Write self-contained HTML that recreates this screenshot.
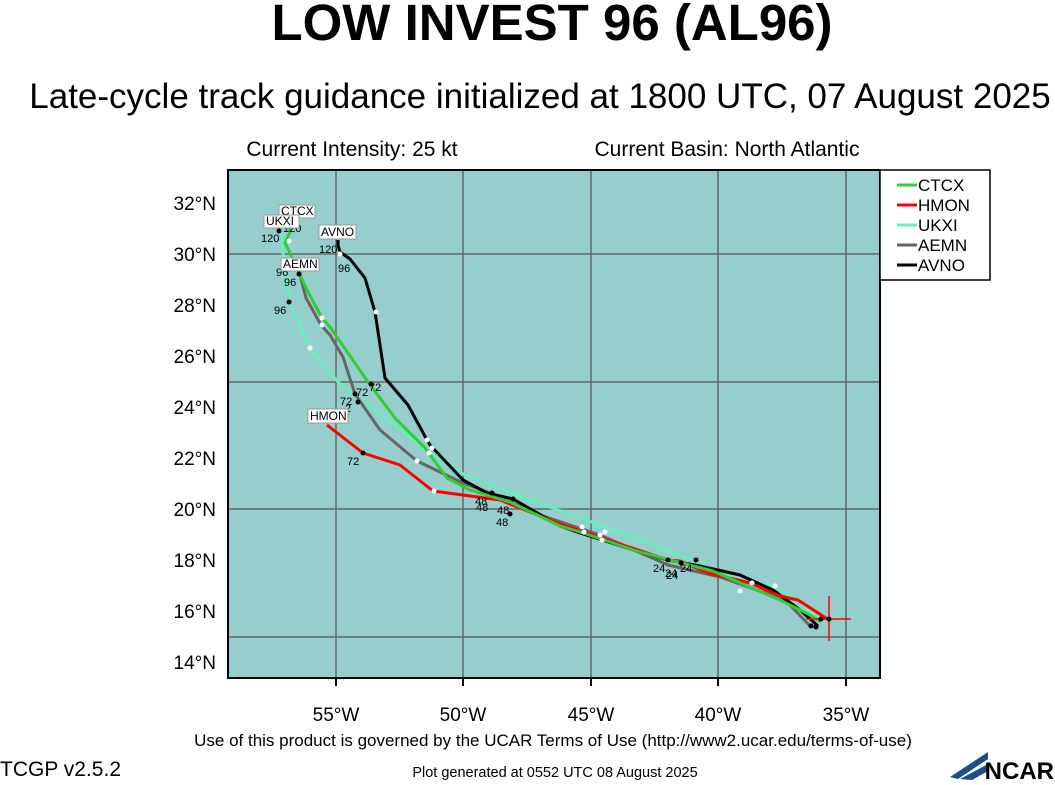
<!DOCTYPE html>
<html><head><style>
body{margin:0;background:#fff;width:1055px;height:780px;overflow:hidden;font-family:"Liberation Sans",sans-serif}
</style></head><body>
<svg width="1055" height="780" xmlns="http://www.w3.org/2000/svg" font-family="Liberation Sans, sans-serif">
<text x="552" y="40" font-size="51" font-weight="bold" text-anchor="middle">LOW INVEST 96 (AL96)</text>
<text x="540" y="108" font-size="35" text-anchor="middle">Late-cycle track guidance initialized at 1800 UTC, 07 August 2025</text>
<text x="352" y="156" font-size="21" text-anchor="middle">Current Intensity: 25 kt</text>
<text x="727" y="156" font-size="21" text-anchor="middle">Current Basin: North Atlantic</text>
<rect x="228" y="170" width="652" height="508" fill="#96cdcd"/>
<g stroke="#666" stroke-width="1.5">
<line x1="336" y1="170" x2="336" y2="678"/><line x1="463" y1="170" x2="463" y2="678"/>
<line x1="591" y1="170" x2="591" y2="678"/><line x1="718" y1="170" x2="718" y2="678"/>
<line x1="846" y1="170" x2="846" y2="678"/>
<line x1="228" y1="254" x2="880" y2="254"/><line x1="228" y1="382" x2="880" y2="382"/>
<line x1="228" y1="509" x2="880" y2="509"/><line x1="228" y1="637" x2="880" y2="637"/>
</g>
<rect x="228" y="170" width="652" height="508" fill="none" stroke="#000" stroke-width="2"/>
<g stroke="#000" stroke-width="2">
<line x1="336" y1="678" x2="336" y2="686"/><line x1="463" y1="678" x2="463" y2="686"/><line x1="591" y1="678" x2="591" y2="686"/><line x1="718" y1="678" x2="718" y2="686"/><line x1="846" y1="678" x2="846" y2="686"/>
</g>
<g font-size="19" text-anchor="middle">
<text x="336" y="721">55°W</text><text x="463" y="721">50°W</text><text x="591" y="721">45°W</text><text x="718" y="721">40°W</text><text x="846" y="721">35°W</text>
</g>
<g font-size="19" text-anchor="end">
<text x="216" y="210">32°N</text><text x="216" y="261">30°N</text><text x="216" y="312">28°N</text><text x="216" y="363">26°N</text><text x="216" y="414">24°N</text><text x="216" y="465">22°N</text><text x="216" y="516">20°N</text><text x="216" y="567">18°N</text><text x="216" y="618">16°N</text><text x="216" y="669">14°N</text>
</g>
<g fill="none" stroke-width="3" stroke-linejoin="round">
<polyline stroke="#66eebb" points="829,620 818,616 775,585 745,583 700,563 600,525 530,500 463,474 430,453 338,382 310,348 290,303 286,278 283,253 282,235 280,229"/>
<polyline stroke="#666666" points="811,627 785,600 720,577 668,565 600,535 540,515 490,493 463,483 417,461 380,430 355,394 343,357 330,335 321,325 306,298 300,275"/>
<polyline stroke="#000" points="818,626 800,610 773,590 740,575 700,566 668,560 640,552 580,533 560,526 513,499 487,493 463,480 430,445 427,440 408,405 385,378 375,312 365,278 350,259 340,252 338,245 338,240"/>
<polyline stroke="#ff0000" points="829,620 798,600 780,596 750,583 708,573 680,561 668,560 560,524 500,500 433,491 400,465 363,453 327,425"/>
<polyline stroke="#33cc33" points="821,622 808,614 780,600 745,585 713,571 670,560 640,552 580,532 560,526 510,502 470,490 447,478 425,448 395,418 368,382 330,327 322,318 308,292 300,275 290,253 285,243 290,232 290,223"/>
</g>
<g stroke="#ff0000" stroke-width="1.5"><line x1="829" y1="596" x2="829" y2="641"/><line x1="806" y1="619" x2="851" y2="619"/></g>
<g fill="#000">
<circle cx="829" cy="619" r="2.5"/><circle cx="821" cy="619" r="2.5"/><circle cx="811" cy="626" r="2.5"/><circle cx="816" cy="627" r="2.5"/>
<circle cx="668" cy="560" r="2.5"/><circle cx="681" cy="563" r="2.5"/><circle cx="696" cy="560" r="2.5"/>
<circle cx="492" cy="493" r="2.5"/><circle cx="513" cy="499" r="2.5"/><circle cx="510" cy="514" r="2.5"/>
<circle cx="371" cy="384" r="2.5"/><circle cx="355" cy="394" r="2.5"/><circle cx="358" cy="402" r="2.5"/><circle cx="363" cy="453" r="2.5"/>
<circle cx="299" cy="274" r="2.5"/><circle cx="289" cy="302" r="2.5"/><circle cx="297" cy="221" r="2.5"/><circle cx="279" cy="231" r="2.5"/>
</g>
<g fill="#fff">
<circle cx="775" cy="586" r="2.5"/><circle cx="740" cy="591" r="2.5"/><circle cx="752" cy="583" r="2.5"/>
<circle cx="582" cy="527" r="2.5"/><circle cx="584" cy="532" r="2.5"/><circle cx="600" cy="535" r="2.5"/><circle cx="605" cy="532" r="2.5"/><circle cx="602" cy="540" r="2.5"/>
<circle cx="427" cy="440" r="2.5"/><circle cx="432" cy="448" r="2.5"/><circle cx="429" cy="453" r="2.5"/><circle cx="417" cy="461" r="2.5"/><circle cx="434" cy="491" r="2.5"/><circle cx="376" cy="312" r="2.5"/>
<circle cx="322" cy="318" r="2.5"/><circle cx="322" cy="325" r="2.5"/><circle cx="310" cy="348" r="2.5"/><circle cx="289" cy="241" r="2.5"/><circle cx="340" cy="254" r="2.5"/>
</g>
<g font-size="11" fill="#000">
<text x="653" y="572">24</text><text x="665" y="577">24</text><text x="680" y="572">24</text><text x="666" y="579">24</text>
<text x="475" y="505">48</text><text x="476" y="511">48</text><text x="497" y="514">48</text><text x="496" y="526">48</text>
<text x="369" y="391">72</text><text x="356" y="396">72</text><text x="340" y="405">72</text><text x="345" y="412">2</text><text x="347" y="465">72</text>
<text x="276" y="276">96</text><text x="284" y="286">96</text><text x="274" y="314">96</text><text x="338" y="272">96</text>
<text x="261" y="242">120</text><text x="283" y="232">120</text><text x="319" y="253">120</text>
</g>
<g font-size="12">
<rect x="279" y="205" width="36" height="13" fill="#fff" stroke="#999"/><text x="281" y="215">CTCX</text>
<rect x="264" y="215" width="35" height="13" fill="#fff" stroke="#999"/><text x="266" y="225">UKXI</text>
<rect x="319" y="225" width="37" height="14" fill="#fff" stroke="#999"/><text x="321" y="236">AVNO</text>
<rect x="281" y="258" width="38" height="13" fill="#fff" stroke="#999"/><text x="283" y="268">AEMN</text>
<rect x="308" y="409" width="40" height="14" fill="#fff" stroke="#999"/><text x="310" y="420">HMON</text>
</g>
<rect x="880" y="170" width="110" height="110" fill="#fff" stroke="#000" stroke-width="1.5"/>
<g stroke-width="3">
<line x1="897" y1="185" x2="917" y2="185" stroke="#33cc33"/><line x1="897" y1="205" x2="917" y2="205" stroke="#ff0000"/><line x1="897" y1="225" x2="917" y2="225" stroke="#66eebb"/><line x1="897" y1="245" x2="917" y2="245" stroke="#666"/><line x1="897" y1="265" x2="917" y2="265" stroke="#000"/>
</g>
<g font-size="17"><text x="918" y="191">CTCX</text><text x="918" y="211">HMON</text><text x="918" y="231">UKXI</text><text x="918" y="251">AEMN</text><text x="918" y="271">AVNO</text></g>
<text x="553" y="746" font-size="17" text-anchor="middle">Use of this product is governed by the UCAR Terms of Use (http://www2.ucar.edu/terms-of-use)</text>
<text x="0" y="776" font-size="21">TCGP v2.5.2</text>
<text x="555" y="777" font-size="14.5" text-anchor="middle">Plot generated at 0552 UTC   08 August 2025</text>
<g fill="#1a4e8a"><polygon points="950,777 988,752 988,759 958,779"/><polygon points="960,779 988,764 988,771 972,780"/></g>
<text x="1054" y="779" font-size="24" font-weight="bold" text-anchor="end" fill="#000">NCAR</text>
</svg>
</body></html>
